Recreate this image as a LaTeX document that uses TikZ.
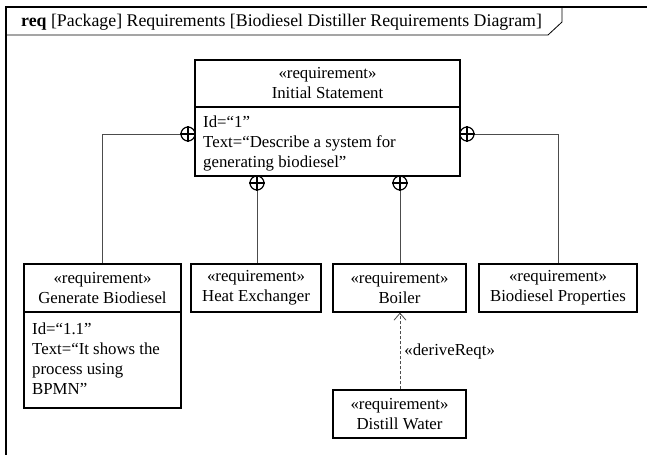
\documentclass[tikz,border=0pt]{standalone}
\usepackage{fontspec}
\setmainfont{Liberation Serif}
\usetikzlibrary{arrows.meta}
\begin{document}
\begin{tikzpicture}[x=1pt,y=-1pt,
  every node/.style={font=\fontsize{16.8}{20}\selectfont},
  frameline/.style={line width=1.3pt},
  boxline/.style={draw, line width=1.2pt, inner sep=0pt, align=center},
  conn/.style={draw=black!70, line width=0.8pt},
  cplus/.style={circle, draw, line width=1.2pt, minimum size=14pt, inner sep=0pt},
  bodytext/.style={anchor=north west, align=left, inner sep=0pt}
]
\useasboundingbox (0,0) rectangle (647,455);
% frame
\coordinate (ftr) at (647,7);
\coordinate (ftl) at (6,7);
\coordinate (fbl) at (6,455);
\coordinate (tabl) at (6,35);
\coordinate (tabr) at (548,35);
\coordinate (tabc) at (562,22);
\coordinate (tabt) at (562,7);
\draw[frameline] (ftr) -- (ftl) -- (fbl);
\draw[line width=0.8pt] (tabl) -- (tabr) -- (tabc) -- (tabt);
\node[anchor=base west, inner sep=0pt, font=\fontsize{17.8}{20}\selectfont] (hdr) at (21,27) {\textbf{req} [Package] Requirements [Biodiesel Distiller Requirements Diagram]};

% Initial Statement
\node[boxline, minimum width=265pt, minimum height=47pt] (ish) at (327.5,83.5) {«requirement»\\Initial Statement};
\node[boxline, minimum width=265pt, minimum height=69pt] (isb) at (327.5,141.5) {};
\node[bodytext] (ist) at (203,116) {Id=“1”\\Text=“Describe a system for\\generating biodiesel”};

% Generate Biodiesel
\node[boxline, minimum width=157pt, minimum height=48pt] (gbh) at (102.5,288) {«requirement»\\Generate Biodiesel};
\node[boxline, minimum width=157pt, minimum height=96pt] (gbb) at (102.5,360) {};
\node[bodytext] (gbt) at (32,323) {Id=“1.1”\\Text=“It shows the\\process using\\BPMN”};

% Heat Exchanger
\node[boxline, minimum width=130pt, minimum height=48pt] (he) at (256,288) {«requirement»\\Heat Exchanger};
% Boiler
\node[boxline, minimum width=133pt, minimum height=48pt] (bo) at (399.5,288) {«requirement»\\Boiler};
% Biodiesel Properties
\node[boxline, minimum width=158pt, minimum height=48pt] (bp) at (558,288) {«requirement»\\Biodiesel Properties};
% Distill Water
\node[boxline, minimum width=133pt, minimum height=48pt] (dw) at (399.5,414) {«requirement»\\Distill Water};

% containment circles
\node[cplus] (c1) at (188,134) {};
\node[cplus] (c2) at (467,134) {};
\node[cplus] (c3) at (257,183) {};
\node[cplus] (c4) at (400,183) {};
\foreach \c in {c1,c2,c3,c4}{
  \draw[line width=1.2pt] (\c.north) -- (\c.south) (\c.west) -- (\c.east);
}

% connectors
\draw[conn] (c1.west) -| (gbh.north);
\draw[conn] (c2.east) -| (bp.north);
\draw[conn] (c3.south) -- (c3.south |- he.north);
\draw[conn] (c4.south) -- (c4.south |- bo.north);

% deriveReqt
\draw[conn, dashed, dash pattern=on 3pt off 2pt, -{Straight Barb[length=7pt,width=12pt,line width=0.8pt]}] (dw.north -| c4.south) -- (bo.south -| c4.south) node[pos=0.5, right=4pt, inner sep=0pt] (lbl) {«deriveReqt»};
\end{tikzpicture}
\end{document}
